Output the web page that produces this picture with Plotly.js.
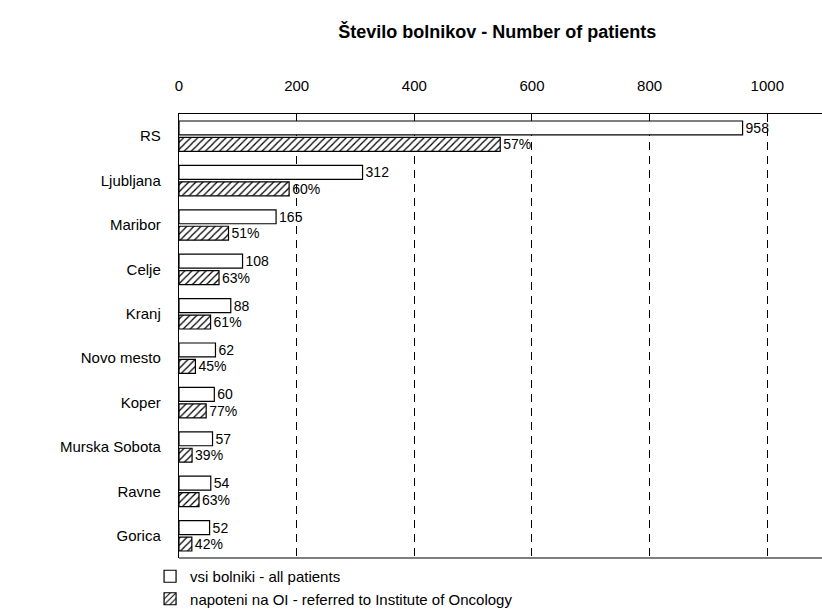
<!DOCTYPE html>
<html><head><meta charset="utf-8">
<script src="https://cdn.plot.ly/plotly-3.0.1.min.js"></script>
<style>body{margin:0;background:#fff}#c{width:822px;height:615px}</style>
</head><body><div id="c"></div>
<script>
const categories = ["RS","Ljubljana","Maribor","Celje","Kranj","Novo mesto","Koper","Murska Sobota","Ravne","Gorica"];
const allPatients = [958,312,165,108,88,62,60,57,54,52];
const referredPct = [57,60,51,63,61,45,77,39,63,42];
const xTicks = [0,200,400,600,800,1000];

const referred = allPatients.map((v,i)=>v*referredPct[i]/100);
const font = {family:"Liberation Sans, Arial, sans-serif", size:15, color:"#000"};
const labelFont = {family:"Liberation Sans, Arial, sans-serif", size:14, color:"#000"};

const traces = [
  {type:"bar", orientation:"h", name:"vsi bolniki - all patients",
   y:categories, x:allPatients, text:allPatients.map(String),
   textposition:"outside", constraintext:"none", cliponaxis:false, textfont:labelFont,
   marker:{color:"#fff", line:{color:"#000", width:1.2}}},
  {type:"bar", orientation:"h", name:"napoteni na OI - referred to Institute of Oncology",
   y:categories, x:referred, text:referredPct.map(p=>p+"%"),
   textposition:"outside", constraintext:"none", cliponaxis:false, textfont:labelFont,
   marker:{color:"#fff", line:{color:"#000", width:1.2},
     pattern:{shape:"/", fgcolor:"#000", bgcolor:"#fff", size:5, solidity:0.25}}}
];

const layout = {
  width:822, height:615,
  margin:{l:179, r:0, t:114, b:53},
  paper_bgcolor:"#fff", plot_bgcolor:"#fff",
  font:font,
  title:{text:"<b>Število bolnikov - Number of patients</b>", x:0.605, xanchor:"center", y:0.948, yanchor:"middle",
         font:{family:"Liberation Sans, Arial, sans-serif", size:18, color:"#000"}},
  barmode:"group", bargap:0.26, bargroupgap:0.15,
  xaxis:{side:"top", range:[0,1093], tickvals:xTicks, ticktext:xTicks.map(String),
         showline:true, linecolor:"#000", linewidth:1.2, mirror:false,
         ticks:"inside", ticklen:5, tickcolor:"#000", ticklabelstandoff:16,
         showgrid:true, gridcolor:"#000", griddash:"8px,6px", gridwidth:1,
         zeroline:false, tickfont:font, fixedrange:true},
  yaxis:{autorange:"reversed", showline:true, linecolor:"#000", linewidth:1.2,
         ticks:"", ticklabelstandoff:14, showgrid:false, tickfont:font, fixedrange:true},
  shapes:[{type:"line", xref:"paper", yref:"paper", x0:0, x1:1, y0:0, y1:0, line:{color:"#000", width:1.2}}],
  showlegend:true,
  legend:{orientation:"v", x:-0.045, xanchor:"left", y:-0.005, yanchor:"top",
          font:font, tracegroupgap:0, itemwidth:30, bgcolor:"rgba(0,0,0,0)"}
};
Plotly.newPlot("c", traces, layout, {displayModeBar:false, staticPlot:true});
</script></body></html>
